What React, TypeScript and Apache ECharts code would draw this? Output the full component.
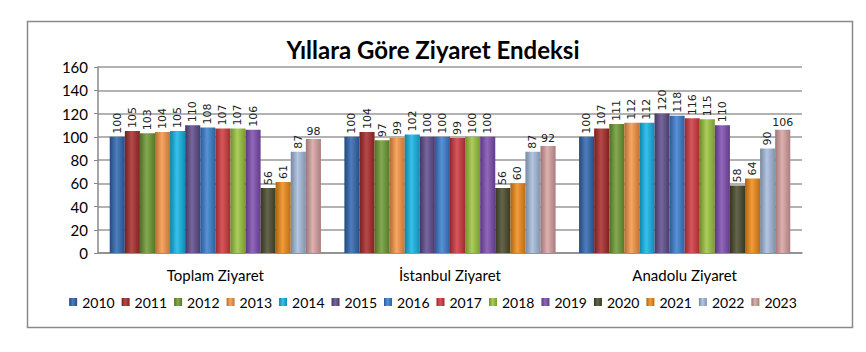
import React, { useEffect, useRef } from "react";
import * as echarts from "echarts";

const categories = ["Toplam Ziyaret", "İstanbul Ziyaret", "Anadolu Ziyaret"];
const years = ["2010", "2011", "2012", "2013", "2014", "2015", "2016", "2017", "2018", "2019", "2020", "2021", "2022", "2023"];
const toplam = [100, 105, 103, 104, 105, 110, 108, 107, 107, 106, 56, 61, 87, 98];
const istanbul = [100, 104, 97, 99, 102, 100, 100, 99, 100, 100, 56, 60, 87, 92];
const anadolu = [100, 107, 111, 112, 112, 120, 118, 116, 115, 110, 58, 64, 90, 106];
const colors = ["#2E67B0", "#A82A2A", "#6E9A32", "#F79646", "#12B6E8", "#5F4B8B", "#3A7DD0", "#D0383E", "#9BC53F", "#7E4CB0", "#4A4A2C", "#F08A18", "#A6BCDD", "#D9A2A2"];
const yTicks = [0, 20, 40, 60, 80, 100, 120, 140, 160];

function mix(hex: string, target: number, t: number) {
  const n = parseInt(hex.slice(1), 16);
  const r = (n >> 16) & 255, g = (n >> 8) & 255, b = n & 255;
  const f = (c: number) => Math.round(c + (target - c) * t);
  return `rgb(${f(r)},${f(g)},${f(b)})`;
}

export default function App() {
  const ref = useRef<HTMLDivElement>(null);
  useEffect(() => {
    if (!ref.current) return;
    const chart = echarts.init(ref.current, null, { renderer: "svg" });
    const series = years.map((y, i) => {
      const c = colors[i];
      const last = i === years.length - 1;
      return {
        name: y,
        type: "bar",
        barGap: "0%",
        barCategoryGap: "10%",
        data: [toplam[i], istanbul[i], anadolu[i]],
        itemStyle: {
          color: new echarts.graphic.LinearGradient(0, 0, 1, 0, [
            { offset: 0, color: mix(c, 0, 0.28) },
            { offset: 0.45, color: mix(c, 255, 0.15) },
            { offset: 1, color: mix(c, 0, 0.22) },
          ]),
        },
        label: last
          ? { show: true, position: "top", distance: 2, fontFamily: "DejaVu Sans", fontSize: 11, color: "#222" }
          : { show: true, position: "top", rotate: 90, align: "left", verticalAlign: "middle", distance: 3, fontFamily: "DejaVu Sans", fontSize: 11, color: "#222" },
      };
    });
    chart.setOption({
      animation: false,
      backgroundColor: "#fff",
      color: colors,
      title: {
        text: "Yıllara Göre Ziyaret Endeksi",
        left: "center",
        top: 32,
        textStyle: { fontFamily: "Lato", fontWeight: "bold", fontSize: 24, color: "#000" },
      },
      graphic: [
        { type: "rect", shape: { x: 27.5, y: 21.5, width: 825, height: 306 }, style: { fill: "none", stroke: "#8a8a8a", lineWidth: 1.5 }, silent: true },
      ],
      grid: { left: 98, right: 64, top: 67, bottom: 99 },
      legend: {
        data: years,
        bottom: 38,
        left: "center",
        itemWidth: 8,
        itemHeight: 8,
        itemGap: 7,
        icon: "rect",
        textStyle: { fontFamily: "Lato", fontSize: 14, color: "#000" },
      },
      xAxis: {
        type: "category",
        data: categories,
        axisLine: { lineStyle: { color: "#888", width: 1.5 } },
        axisTick: { show: false },
        axisLabel: { fontFamily: "Lato", fontSize: 15, color: "#000", margin: 14 },
      },
      yAxis: {
        type: "value",
        min: yTicks[0],
        max: yTicks[yTicks.length - 1],
        interval: 20,
        axisLine: { show: true, lineStyle: { color: "#888", width: 1.5 } },
        axisTick: { show: true, length: 4, lineStyle: { color: "#888" } },
        splitLine: { lineStyle: { color: "#999", width: 1.5 } },
        axisLabel: { fontFamily: "Lato", fontSize: 15, color: "#000", margin: 10 },
      },
      series,
    });
    return () => chart.dispose();
  }, []);
  return <div ref={ref} style={{ position: "fixed", left: 0, top: 0, width: 866, height: 352 }} />;
}
